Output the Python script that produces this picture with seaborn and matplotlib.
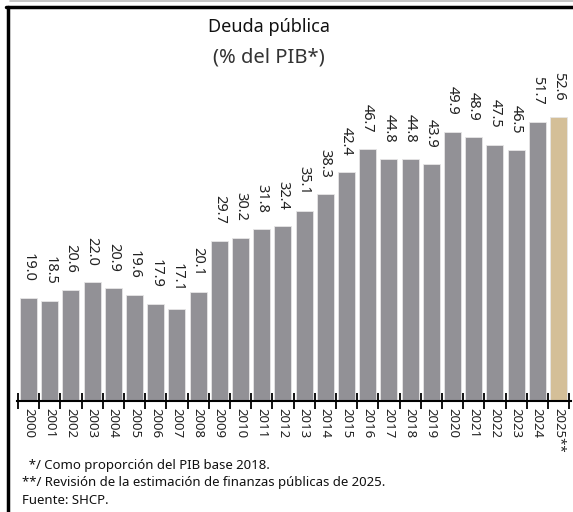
import numpy as np
import pandas as pd
import matplotlib.pyplot as plt
import seaborn as sns
from matplotlib.lines import Line2D

# datos
years = ['2000', '2001', '2002', '2003', '2004', '2005', '2006', '2007', '2008',
         '2009', '2010', '2011', '2012', '2013', '2014', '2015', '2016', '2017',
         '2018', '2019', '2020', '2021', '2022', '2023', '2024', '2025**']
deuda = [19.0, 18.5, 20.6, 22.0, 20.9, 19.6, 17.9, 17.1, 20.1, 29.7, 30.2, 31.8,
         32.4, 35.1, 38.3, 42.4, 46.7, 44.8, 44.8, 43.9, 49.9, 48.9, 47.5, 46.5,
         51.7, 52.6]
notas = ['  */ Como proporción del PIB base 2018.',
         '**/ Revisión de la estimación de finanzas públicas de 2025.',
         'Fuente: SHCP.']

df = pd.DataFrame({'anio': years, 'deuda': deuda})
colores = ['#929196'] * (len(years) - 1) + ['#D4BF98']

sns.set_style('white')
plt.rcParams['font.family'] = ['Noto Sans', 'DejaVu Sans']

W, H = 573, 512
fig = plt.figure(figsize=(W / 100, H / 100), dpi=100)
ax = fig.add_axes([17.9 / W, 111 / H, 551.2 / W, 324 / H])

sns.barplot(data=df, x='anio', y='deuda', hue='anio', palette=colores,
            legend=False, width=0.8, saturation=1, edgecolor='#e6e6e6',
            linewidth=0.6, ax=ax)

ax.set_ylim(0, 60)
ax.set_xlim(-0.5, len(years) - 0.5)
ax.set_xlabel('')
ax.set_ylabel('')
ax.set_yticks([])

# etiquetas de valores
for i, v in enumerate(deuda):
    ax.annotate(f'{v:.1f}', (i, v), xytext=(0, 12), textcoords='offset points',
                rotation=270, ha='center', va='bottom', fontsize=10.5,
                color='#222222')

# ejes: marcas entre barras, etiquetas al centro
ax.set_xticks(np.arange(-0.5, len(years), 1))
ax.set_xticklabels([])
ax.set_xticks(np.arange(len(years)), minor=True)
ax.set_xticklabels(years, minor=True, rotation=270, fontsize=9.5, color='#222222')
ax.tick_params(axis='x', which='major', direction='inout', length=11,
               width=1.3, color='black', bottom=True)
ax.tick_params(axis='x', which='minor', length=0, pad=5)

for s in ['top', 'right', 'left']:
    ax.spines[s].set_visible(False)
ax.spines['bottom'].set_color('black')
ax.spines['bottom'].set_linewidth(1.5)
ax.spines['bottom'].set_bounds(-0.55, len(years) - 0.4)

# titulo
fig.text(269 / W, 1 - 27 / H, 'Deuda pública', ha='center', va='center',
         fontsize=13, color='#111111')
fig.text(269 / W, 1 - 57 / H, '(% del PIB*)', ha='center', va='center',
         fontsize=14.5, color='#333333', fontweight='light')

# notas
for k, t in enumerate(notas):
    fig.text(22 / W, 1 - (465 + 17.5 * k) / H, t, ha='left', va='center',
             fontsize=9.5, color='#111111')

# marco
fig.add_artist(Line2D([10 / W, 1], [1 - 0.8 / H, 1 - 0.8 / H], color='#bbbbbb', lw=1.2))
fig.add_artist(Line2D([6 / W, 1], [1 - 7 / H, 1 - 7 / H], color='black', lw=2.5))
fig.add_artist(Line2D([7.5 / W, 7.5 / W], [0, 1 - 7 / H], color='black', lw=2.5))

fig.savefig('out.png', dpi=100)
